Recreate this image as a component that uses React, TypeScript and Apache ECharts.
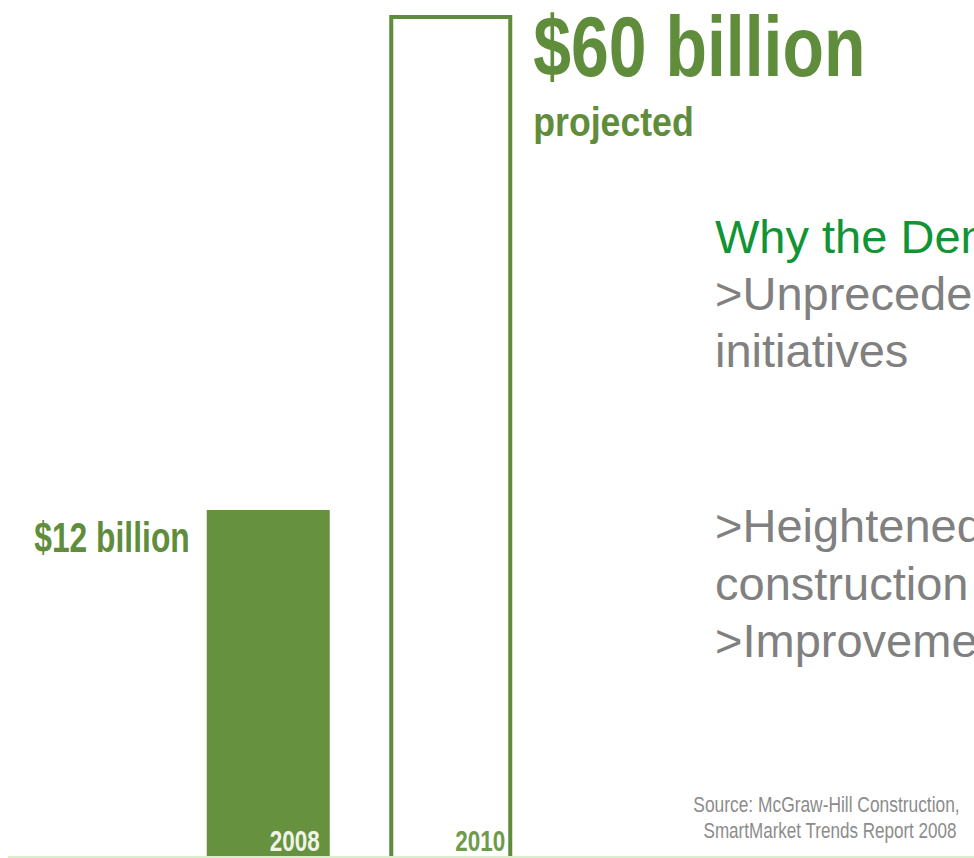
import React, { useEffect, useRef } from "react";
import * as echarts from "echarts";

const categories = ["2008", "2010"];
const values = [12, 60];
const valueLabels = ["$12 billion", "$60 billion"];
const subLabel = "projected";
const panelTitle = "Why the Dem";
const panelLines = [">Unprecede", "initiatives", ">Heightened", "construction", ">Improveme"];
const sourceLines = ["Source: McGraw-Hill Construction,", "SmartMarket Trends Report 2008"];

const GREEN_FILL = "#66913f";
const GREEN_LINE = "#5f8c3a";
const GREEN_TEXT = "#5f8d3b";
const TITLE_GREEN = "#119433";
const GRAY = "#808080";
const FONT = "'Liberation Sans', Arial, sans-serif";

const W = 974;
const H = 858;
const BAR_W = 123;
const Y_MIN = 3.87;

function txt(text: string, x: number, y: number, size: number, fill: string, opts: any = {}) {
  const align = opts.align || "left";
  return {
    type: "text",
    x,
    y,
    z: 100,
    zlevel: 0,
    scaleX: opts.scaleX || 1,
    silent: true,
    style: {
      text,
      fontSize: size,
      fontWeight: opts.bold ? "bold" : "normal",
      fontFamily: FONT,
      fill,
      align,
      textAlign: align,
      verticalAlign: "middle",
      textVerticalAlign: "middle",
    },
  };
}

export default function App() {
  const ref = useRef<HTMLDivElement>(null);

  useEffect(() => {
    if (!ref.current) return;
    const chart = echarts.init(ref.current, undefined, { renderer: "svg" });
    chart.setOption({
      animation: false,
      backgroundColor: "#ffffff",
      grid: { left: 177, right: 432, top: 15, bottom: 0, containLabel: false },
      xAxis: {
        type: "category",
        data: categories,
        boundaryGap: true,
        axisLine: { show: false },
        axisTick: { show: false },
        axisLabel: { show: false },
        splitLine: { show: false },
      },
      yAxis: {
        type: "log",
        logBase: 10,
        min: Y_MIN,
        max: 60,
        show: false,
        splitLine: { show: false },
      },
      series: [
        {
          type: "bar",
          barWidth: BAR_W,
          clip: true,
          silent: true,
          z: 2,
          data: values.map((v, i) =>
            i === 0
              ? { value: v, itemStyle: { color: GREEN_FILL } }
              : { value: v, itemStyle: { color: "#ffffff", borderColor: GREEN_LINE, borderWidth: 4 } }
          ),
        },
      ],
    });

    const p0 = chart.convertToPixel({ seriesIndex: 0 }, [0, values[0]]) as number[];
    const p1 = chart.convertToPixel({ seriesIndex: 0 }, [1, values[1]]) as number[];
    const bottom = (chart.convertToPixel({ seriesIndex: 0 }, [0, Y_MIN]) as number[])[1];
    const half = BAR_W / 2;

    const graphics: any[] = [
      {
        type: "line",
        silent: true,
        z: 100,
        shape: { x1: 8, y1: bottom - 1, x2: W, y2: bottom - 1 },
        style: { stroke: "#d9eecb", lineWidth: 2 },
      },
      txt(valueLabels[0], p0[0] - half - 17, p0[1] + 27.5, 43, GREEN_TEXT, { align: "right", bold: true, scaleX: 0.74 }),
      txt(valueLabels[1], p1[0] + half + 21, p1[1] + 31, 86, GREEN_TEXT, { bold: true, scaleX: 0.79 }),
      txt(subLabel, p1[0] + half + 21, p1[1] + 107, 41, GREEN_TEXT, { bold: true, scaleX: 0.87 }),
      txt(categories[0], p0[0] + half - 10, bottom - 17, 30, "#eef4e6", { align: "right", bold: true, scaleX: 0.75 }),
      txt(categories[1], p1[0] + half - 7, bottom - 17, 30, "#6f9a4c", { align: "right", bold: true, scaleX: 0.75 }),
    ];

    const px = 715;
    const fs = 47;
    const off = 16.3;
    const baselines = [253, 310, 367, 542, 600, 657];
    graphics.push(txt(panelTitle, px, baselines[0] - off, fs, TITLE_GREEN));
    panelLines.forEach((l, i) => {
      graphics.push(txt(l, px, baselines[i + 1] - off, fs, GRAY));
    });
    graphics.push(txt(sourceLines[0], 826.5, 804.4, 22, "#8c8c8c", { align: "center", scaleX: 0.79 }));
    graphics.push(txt(sourceLines[1], 830, 830.4, 22, "#8c8c8c", { align: "center", scaleX: 0.775 }));

    chart.setOption({ graphic: { elements: graphics } });

    return () => chart.dispose();
  }, []);

  return (
    <div
      ref={ref}
      style={{ position: "fixed", left: 0, top: 0, width: W, height: H, background: "#fff" }}
    />
  );
}
